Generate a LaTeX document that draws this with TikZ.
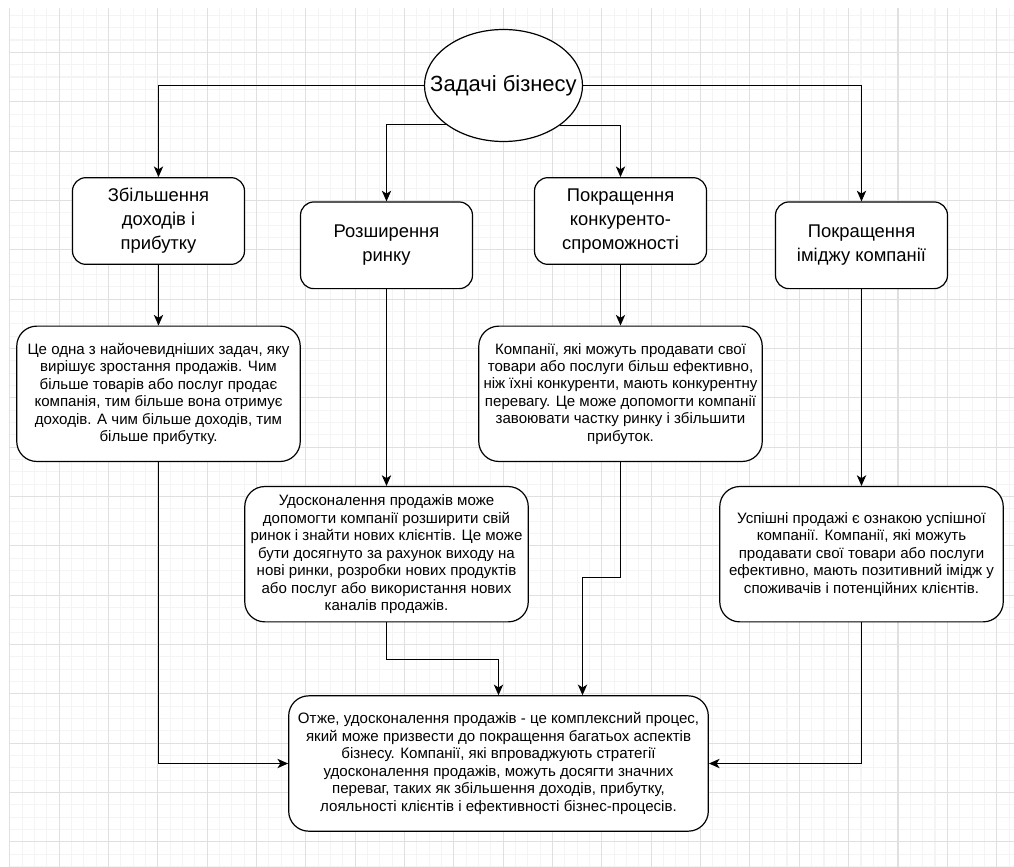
\documentclass[tikz,border=0pt]{standalone}
\usepackage{fontspec}
\setmainfont{Liberation Sans}
\usetikzlibrary{calc,shapes.geometric,arrows.meta}

\begin{document}
\begin{tikzpicture}[x=0.75pt, y=-0.75pt,
    minorline/.style={gray!9, line width=0.8pt},
    majorline/.style={gray!24, line width=0.8pt},
    link/.style={-{Stealth[length=8pt, width=7pt, inset=2.2pt]}, line width=0.9pt},
    goalshape/.style={draw, ellipse, line width=0.9pt, fill=white, inner sep=0pt,
        minimum width=118.5pt, minimum height=84pt, font=\fontsize{16.5}{20}\selectfont},
    taskbox/.style={draw, line width=0.9pt, fill=white, rounded corners=10pt, align=center,
        inner sep=0pt, minimum width=129pt, minimum height=65pt, font=\fontsize{13.8}{18}\selectfont},
    textbox/.style={draw, line width=0.9pt, fill=white, rounded corners=15pt, align=center,
        inner sep=0pt, minimum width=212.6pt, minimum height=101.5pt, font=\fontsize{11.3}{13.1}\selectfont}]

    \fill[white] (0,0) rectangle (1014,867);
    \useasboundingbox (0,0) rectangle (1014,867);

    \foreach \k in {0,...,81}
        \draw[minorline] ({9.7+12.3375*\k},8) -- ({9.7+12.3375*\k},867);
    \foreach \k in {1,...,70}
        \draw[minorline] (9.7,{3+12.3375*\k}) -- (1014,{3+12.3375*\k});
    \foreach \k in {0,...,20}
        \draw[majorline] ({9.7+49.35*\k},8) -- ({9.7+49.35*\k},867);
    \foreach \k in {1,...,17}
        \draw[majorline] (9.7,{3+49.35*\k}) -- (1014,{3+49.35*\k});

    \node[goalshape] (0) at (503.5, 85.5) {\makebox[0pt]{Задачі бізнесу}};

    \node[taskbox] (1) at (158.5, 221) {Збільшення\\доходів і\\прибутку};
    \node[taskbox] (2) at (386.5, 245.3) {Розширення\\ринку};
    \node[taskbox] (3) at (620.5, 221) {Покращення\\конкуренто-\\спроможності};
    \node[taskbox] (4) at (861.5, 245.3) {Покращення\\іміджу компанії};

    \node[textbox] (5) at (158.5, 393.8) {Це одна з найочевидніших задач, яку\\вирішує зростання продажів. Чим\\більше товарів або послуг продає\\компанія, тим більше вона отримує\\доходів. А чим більше доходів, тим\\більше прибутку.};
    \node[textbox] (6) at (386.5, 554.2) {Удосконалення продажів може\\допомогти компанії розширити свій\\ринок і знайти нових клієнтів. Це може\\бути досягнуто за рахунок виходу на\\нові ринки, розробки нових продуктів\\або послуг або використання нових\\каналів продажів.};
    \node[textbox] (7) at (620.5, 393.8) {Компанії, які можуть продавати свої\\товари або послуги більш ефективно,\\ніж їхні конкуренти, мають конкурентну\\перевагу. Це може допомогти компанії\\завоювати частку ринку і збільшити\\прибуток.};
    \node[textbox] (8) at (861.5, 554.2) {Успішні продажі є ознакою успішної\\компанії. Компанії, які можуть\\продавати свої товари або послуги\\ефективно, мають позитивний імідж у\\споживачів і потенційних клієнтів.};

    \node[textbox, minimum width=314.7pt] (9) at (498.5, 763.5) {Отже, удосконалення продажів - це комплексний процес,\\який може призвести до покращення багатьох аспектів\\бізнесу. Компанії, які впроваджують стратегії\\удосконалення продажів, можуть досягти значних\\переваг, таких як збільшення доходів, прибутку,\\лояльності клієнтів і ефективності бізнес-процесів.};

    \draw[link] (0.west) -| (1.north);
    \draw[link] (0.east) -| (4.north);
    \draw[link] (0.214.5) -| (2.north);
    \draw[link] (0.325.5) -| (3.north);

    \draw[link] (1.south) -- (5.north);
    \draw[link] (2.south) -- (6.north);
    \draw[link] (3.south) -- (7.north);
    \draw[link] (4.south) -- (8.north);

    \draw[link] (5.south) |- (9.west);
    \draw[link] (8.south) |- (9.east);
    \draw[link] (6.south) -- ++(0,36.8) -| (9.north);
    \draw[link] (7.south) -- ++(0,115.8) -| ($(9.north)+(84,0)$);
\end{tikzpicture}
\end{document}
